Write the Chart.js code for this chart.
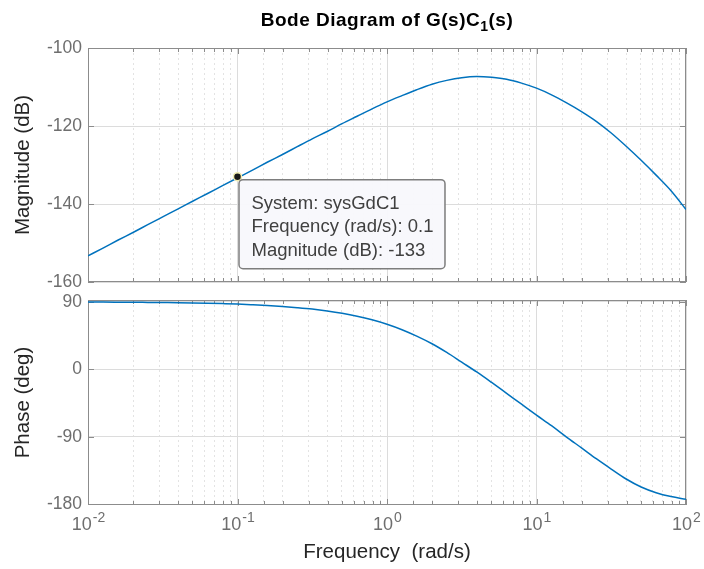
<!DOCTYPE html>
<html>
<head>
<meta charset="utf-8">
<script src="https://cdn.jsdelivr.net/npm/chart.js@4.4.1/dist/chart.umd.min.js"></script>
<style>
html, body { margin: 0; padding: 0; background: #fff; }
#wrap { position: relative; width: 704px; height: 569px; overflow: hidden; font-family: "Liberation Sans", Arial, sans-serif; }
canvas { position: absolute; left: 0; }
#title { position: absolute; left: 88px; width: 598px; top: 9px; text-align: center; font-weight: bold; font-size: 19px; letter-spacing: 0.5px; color: #000; }
#title sub { font-size: 14px; vertical-align: -5px; line-height: 0; }
</style>
</head>
<body>
<div id="wrap">
  <canvas id="magChart" width="704" height="290" style="top:0"></canvas>
  <canvas id="phaseChart" width="704" height="279" style="top:290px"></canvas>
  <div id="title">Bode Diagram of G(s)C<sub>1</sub>(s)</div>
</div>
<script>
// frequency grid (rad/s), read every tenth of a decade
const freq = [0.01, 0.0126, 0.0158, 0.02, 0.0251, 0.0316, 0.0398, 0.0501, 0.0631, 0.0794,
  0.1, 0.126, 0.158, 0.2, 0.251, 0.316, 0.398, 0.501, 0.631, 0.794,
  1, 1.26, 1.58, 2, 2.51, 3.16, 3.98, 5.01, 6.31, 7.94,
  10, 12.6, 15.8, 20, 25.1, 31.6, 39.8, 50.1, 63.1, 79.4, 100];

// magnitude (dB)
const magnitude = [-153.3, -151.3, -149.3, -147.3, -145.3, -143.3, -141.3, -139.3, -137.3, -135.3,
  -133.3, -131.3, -129.3, -127.3, -125.3, -123.3, -121.4, -119.4, -117.5, -115.6,
  -113.8, -112.2, -110.7, -109.3, -108.3, -107.6, -107.3, -107.5, -108.0, -109.0,
  -110.3, -112.0, -114.0, -116.3, -118.8, -121.8, -125.2, -128.8, -132.6, -136.6, -141.4];

// phase (deg)
const phase = [89.8, 89.7, 89.6, 89.5, 89.3, 89.1, 88.9, 88.6, 88.2, 87.7,
  87.1, 86.2, 85.2, 83.9, 82.3, 80.4, 77.9, 74.8, 70.9, 66.1,
  60.2, 52.9, 44.3, 34.1, 22.5, 9.5, -3.5, -17.5, -32.0, -46.5,
  -61.0, -75.2, -90.0, -104.8, -119.2, -133.0, -146.3, -157.0, -164.6, -169.8, -173.5];

const magTicks = [-160, -140, -120, -100];
const magLimits = [-160, -100];
const phaseTicks = [-180, -90, 0, 90];
const phaseLimits = [-181, 92.5];
const decadeExps = [-2, -1, 0, 1, 2];

// data tip
const tipFreq = 0.1;
const tipMag = -133;
const tipLines = ["System: sysGdC1", "Frequency (rad/s): 0.1", "Magnitude (dB): -133"];

const FONT = '"Liberation Sans", Arial, sans-serif';
const LINE_BLUE = "#0072BD";
const TICK_GRAY = "#6e6e6e";
const BOX_GRAY = "#8c8c8c";

Chart.defaults.font.family = FONT;

const isDecade = v => Math.abs(Math.log10(v) - Math.round(Math.log10(v))) < 1e-6;

// box around plot area + MATLAB style inner tick marks
const boxPlugin = {
  id: "boxPlugin",
  beforeDatasetsDraw(chart) {
    const { ctx, chartArea: a, scales } = chart;
    ctx.save();
    ctx.strokeStyle = BOX_GRAY;
    ctx.lineWidth = 1;
    ctx.beginPath();
    scales.x.ticks.forEach(t => {
      const x = Math.round(scales.x.getPixelForValue(t.value)) + 0.5;
      const len = isDecade(t.value) ? 6 : 4;
      ctx.moveTo(x, a.top); ctx.lineTo(x, a.top + len);
      ctx.moveTo(x, a.bottom); ctx.lineTo(x, a.bottom - len);
    });
    scales.y.ticks.forEach(t => {
      const y = Math.round(scales.y.getPixelForValue(t.value)) + 0.5;
      ctx.moveTo(a.left, y); ctx.lineTo(a.left + 6, y);
      ctx.moveTo(a.right, y); ctx.lineTo(a.right - 6, y);
    });
    ctx.stroke();
    ctx.strokeRect(a.left + 0.5, a.top + 0.5, a.right - a.left - 1, a.bottom - a.top - 1);
    ctx.restore();
  }
};

// 10^n labels under the phase plot
const decadeLabels = {
  id: "decadeLabels",
  afterDraw(chart) {
    const { ctx, chartArea: a, scales } = chart;
    ctx.save();
    ctx.fillStyle = TICK_GRAY;
    ctx.textBaseline = "alphabetic";
    decadeExps.forEach(e => {
      const x = scales.x.getPixelForValue(Math.pow(10, e));
      ctx.font = "18px " + FONT;
      const wBase = ctx.measureText("10").width;
      ctx.font = "14px " + FONT;
      const wExp = ctx.measureText(String(e)).width;
      const x0 = x - (wBase + wExp) / 2;
      ctx.font = "18px " + FONT;
      ctx.fillText("10", x0, a.bottom + 25);
      ctx.font = "14px " + FONT;
      ctx.fillText(String(e), x0 + wBase + 1, a.bottom + 17);
    });
    ctx.restore();
  }
};

// data tip box
const tipPlugin = {
  id: "tipPlugin",
  afterDraw(chart) {
    const { ctx, scales } = chart;
    const px = scales.x.getPixelForValue(tipFreq);
    const py = scales.y.getPixelForValue(tipMag);
    ctx.save();
    ctx.font = "18.5px " + FONT;
    const w = Math.max(...tipLines.map(s => ctx.measureText(s).width)) + 24;
    const h = 89;
    const bx = px + 1.5, by = py + 3;
    ctx.beginPath();
    ctx.roundRect(bx, by, w, h, 4);
    ctx.fillStyle = "rgba(248,248,252,0.97)";
    ctx.fill();
    ctx.lineWidth = 1.5;
    ctx.strokeStyle = "#7d7d7d";
    ctx.stroke();
    ctx.fillStyle = "#404040";
    ctx.textBaseline = "alphabetic";
    tipLines.forEach((s, i) => ctx.fillText(s, bx + 12.5, by + 29 + i * 23.5));
    ctx.restore();
  }
};

function xScale(withTitle) {
  return {
    type: "logarithmic",
    min: 0.01,
    max: 100,
    ticks: { display: false, autoSkip: false },
    grid: {
      drawTicks: false,
      lineWidth: 1,
      color: c => (c.tick && isDecade(c.tick.value)) ? "#dcdcdc" : "#e3e3e3"
    },
    border: {
      display: false,
      dash: c => (c.tick && isDecade(c.tick.value)) ? [] : [2, 3]
    },
    title: {
      display: withTitle,
      text: "Frequency  (rad/s)",
      color: "#262626",
      font: { size: 20.5 },
      padding: { top: 0, bottom: 4 }
    },
    afterFit: s => {
      s.height = withTitle ? 64 : 0;
      s.paddingLeft = 0; s.paddingRight = 0;
    }
  };
}

function yScale(title, limits, tickValues) {
  return {
    min: limits[0],
    max: limits[1],
    afterBuildTicks: s => { s.ticks = tickValues.map(v => ({ value: v })); },
    ticks: { color: TICK_GRAY, font: { size: 17.5 }, padding: 6 },
    grid: { drawTicks: false, color: "#dcdcdc", lineWidth: 1 },
    border: { display: false },
    title: {
      display: true,
      text: title,
      color: "#262626",
      font: { size: 20.5 },
      padding: { top: 11, bottom: 0 }
    },
    afterFit: s => {
      s.width = 88;
      s.paddingTop = 0; s.paddingBottom = 0;
    }
  };
}

new Chart(document.getElementById("magChart"), {
  type: "scatter",
  data: {
    datasets: [
      {
        data: [{ x: tipFreq, y: tipMag }],
        pointRadius: 4,
        pointBackgroundColor: "#1a1a1a",
        pointBorderColor: "#f2eeb4",
        pointBorderWidth: 1.5,
        showLine: false
      },
      {
        data: freq.map((f, i) => ({ x: f, y: magnitude[i] })),
        showLine: true,
        borderColor: LINE_BLUE,
        borderWidth: 1.5,
        pointRadius: 0,
        cubicInterpolationMode: "monotone"
      }
    ]
  },
  options: {
    responsive: false,
    animation: false,
    devicePixelRatio: 1,
    layout: { padding: { left: 0, right: 18, top: 48, bottom: 8 } },
    plugins: { legend: { display: false }, tooltip: { enabled: false } },
    scales: {
      x: xScale(false),
      y: yScale("Magnitude (dB)", magLimits, magTicks)
    }
  },
  plugins: [boxPlugin, tipPlugin]
});

new Chart(document.getElementById("phaseChart"), {
  type: "scatter",
  data: {
    datasets: [{
      data: freq.map((f, i) => ({ x: f, y: phase[i] })),
      showLine: true,
      borderColor: LINE_BLUE,
      borderWidth: 1.5,
      pointRadius: 0,
      cubicInterpolationMode: "monotone"
    }]
  },
  options: {
    responsive: false,
    animation: false,
    devicePixelRatio: 1,
    layout: { padding: { left: 0, right: 18, top: 10, bottom: 0 } },
    plugins: { legend: { display: false }, tooltip: { enabled: false } },
    scales: {
      x: xScale(true),
      y: yScale("Phase (deg)", phaseLimits, phaseTicks)
    }
  },
  plugins: [boxPlugin, decadeLabels]
});
</script>
</body>
</html>
